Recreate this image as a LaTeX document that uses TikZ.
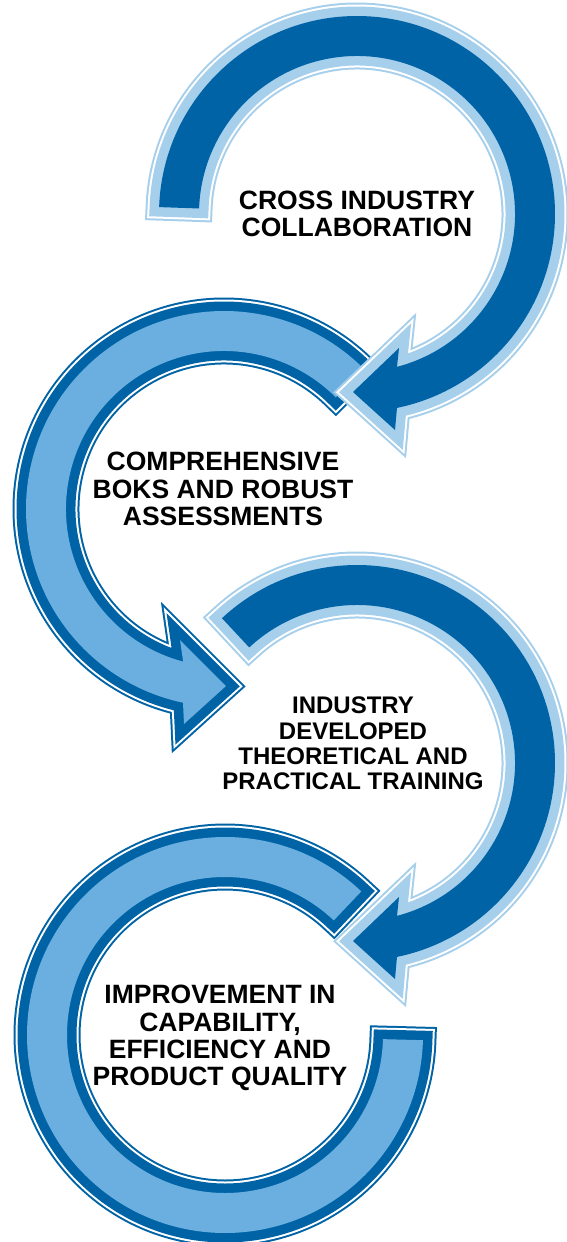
\documentclass[tikz,border=0pt]{standalone}
\usepackage{fontspec}
\setmainfont{Liberation Sans}
\definecolor{darkblue}{RGB}{0,99,166}
\definecolor{paleblue}{RGB}{166,207,236}
\definecolor{midblue}{RGB}{106,175,224}
\begin{document}
\begin{tikzpicture}[x=1pt, y=-1pt,
    darkarrow/.style={fill=darkblue,
        preaction={draw=paleblue, line width=27pt},
        preaction={draw=white, line width=23pt},
        preaction={draw=paleblue, line width=19pt}},
    lightarrow/.style={fill=midblue,
        preaction={draw=darkblue, line width=27pt},
        preaction={draw=white, line width=23pt},
        preaction={draw=darkblue, line width=19pt}},
    ringtext/.style={align=center, font=\bfseries\fontsize{26.5}{27.2}\selectfont}]
    \useasboundingbox (0,0) rectangle (566,1242);
    % last ring, no head
    \begin{scope}[shift={(225,1035)}]
        \path[lightarrow] (-46.5:198) arc[start angle=-46.5, end angle=-358.5, radius=198]
            -- (-358.5:158) arc[start angle=-358.5, end angle=-46.5, radius=158] -- cycle;
        \node[ringtext] (improve) at (-5,3) {IMPROVEMENT IN\\CAPABILITY,\\EFFICIENCY AND\\PRODUCT QUALITY};
    \end{scope}
    \begin{scope}[shift={(357,763)}]
        \path[darkarrow] (227:198) arc[start angle=227, end angle=438.35, radius=198]
            -- (38,216) -- (-4,178) -- (42,134)
            -- (435.33:158) arc[start angle=435.33, end angle=227, radius=158] -- cycle;
        \node[ringtext, font=\bfseries\fontsize{24}{25.3}\selectfont] (training) at (-4,-19.5) {INDUSTRY\\DEVELOPED\\THEORETICAL AND\\PRACTICAL TRAINING};
    \end{scope}
    \begin{scope}[shift={(224,509)}]
        \path[lightarrow] (-45:198) arc[start angle=-45, end angle=-258.05, radius=198]
            -- (-40,215) -- (2,177) -- (-44,131)
            -- (-255:158) arc[start angle=-255, end angle=-45, radius=158] -- cycle;
        \node[ringtext] (boks) at (-1,-20) {COMPREHENSIVE\\BOKS AND ROBUST\\ASSESSMENTS};
    \end{scope}
    % first ring
    \begin{scope}[shift={(357,214)}]
        \path[darkarrow] (182:198) arc[start angle=182, end angle=438.35, radius=198]
            -- (38,216) -- (-4,178) -- (42,134)
            -- (435.33:158) arc[start angle=435.33, end angle=182, radius=158] -- cycle;
        \node[ringtext] (cross) at (0,0) {CROSS INDUSTRY\\COLLABORATION};
    \end{scope}
\end{tikzpicture}
\end{document}
